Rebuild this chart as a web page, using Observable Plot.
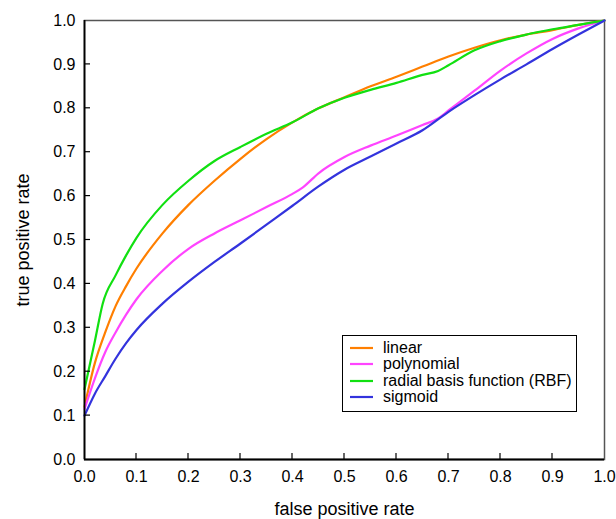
<!DOCTYPE html>
<html>
<head>
<meta charset="utf-8">
<script src="https://cdn.jsdelivr.net/npm/d3@7"></script>
<script src="https://cdn.jsdelivr.net/npm/@observablehq/plot@0.6"></script>
<style>
  html, body { margin: 0; padding: 0; background: #fff; }
  #wrap { position: relative; width: 616px; height: 519px; font-family: "Liberation Sans", Arial, sans-serif; }
  #legend { position: absolute; left: 342px; top: 335px; width: 235px; height: 77px; border: 1px solid #000; background: #fff; box-sizing: border-box; font-size: 16px; line-height: 16.3px; padding: 4px 0 0 7px; }
  #legend div { display: flex; align-items: center; height: 16.3px; }
  #legend svg { margin-right: 10px; }
</style>
</head>
<body>
<div id="wrap"></div>
<script>
const seriesNames = ["linear", "polynomial", "radial basis function (RBF)", "sigmoid"];
const seriesColors = ["#ff7f00", "#ff44ff", "#11e011", "#3333dd"];

const linearFpr = [0, 0.02, 0.04, 0.06, 0.08, 0.1, 0.15, 0.2, 0.25, 0.3, 0.35, 0.4, 0.45, 0.5, 0.55, 0.6, 0.65, 0.7, 0.75, 0.8, 0.85, 0.9, 0.95, 1.0];
const linearTpr = [0.12, 0.22, 0.29, 0.35, 0.395, 0.435, 0.515, 0.58, 0.635, 0.685, 0.73, 0.768, 0.80, 0.825, 0.85, 0.872, 0.895, 0.918, 0.938, 0.955, 0.968, 0.978, 0.99, 1.0];

const polyFpr = [0, 0.02, 0.04, 0.06, 0.08, 0.1, 0.15, 0.2, 0.25, 0.3, 0.35, 0.4, 0.42, 0.45, 0.5, 0.55, 0.6, 0.65, 0.68, 0.7, 0.75, 0.8, 0.85, 0.9, 0.95, 1.0];
const polyTpr = [0.115, 0.185, 0.245, 0.29, 0.33, 0.365, 0.43, 0.48, 0.515, 0.545, 0.575, 0.605, 0.62, 0.652, 0.689, 0.715, 0.738, 0.762, 0.777, 0.795, 0.84, 0.886, 0.925, 0.958, 0.982, 1.0];

const rbfFpr = [0, 0.02, 0.035, 0.06, 0.08, 0.1, 0.15, 0.2, 0.25, 0.3, 0.35, 0.4, 0.45, 0.5, 0.55, 0.6, 0.65, 0.68, 0.7, 0.75, 0.8, 0.85, 0.9, 0.95, 1.0];
const rbfTpr = [0.16, 0.27, 0.355, 0.42, 0.465, 0.505, 0.58, 0.635, 0.68, 0.712, 0.742, 0.768, 0.80, 0.824, 0.842, 0.858, 0.876, 0.885, 0.898, 0.932, 0.953, 0.968, 0.98, 0.99, 1.0];

const sigFpr = [0, 0.02, 0.04, 0.06, 0.08, 0.1, 0.15, 0.2, 0.25, 0.3, 0.35, 0.4, 0.45, 0.5, 0.55, 0.6, 0.65, 0.7, 0.75, 0.8, 0.85, 0.9, 0.95, 1.0];
const sigTpr = [0.10, 0.15, 0.19, 0.23, 0.265, 0.295, 0.355, 0.405, 0.45, 0.492, 0.535, 0.578, 0.622, 0.66, 0.69, 0.72, 0.75, 0.792, 0.83, 0.866, 0.9, 0.935, 0.968, 1.0];

const xTicks = [0, 0.1, 0.2, 0.3, 0.4, 0.5, 0.6, 0.7, 0.8, 0.9, 1.0];
const yTicks = [0, 0.1, 0.2, 0.3, 0.4, 0.5, 0.6, 0.7, 0.8, 0.9, 1.0];

const fprs = [linearFpr, polyFpr, rbfFpr, sigFpr];
const tprs = [linearTpr, polyTpr, rbfTpr, sigTpr];
const rows = [];
seriesNames.forEach((name, i) => {
  fprs[i].forEach((f, j) => rows.push({series: name, fpr: f, tpr: tprs[i][j]}));
});

const fmt = d3.format(".1f");

const chart = Plot.plot({
  width: 616,
  height: 519,
  marginLeft: 84,
  marginRight: 12,
  marginTop: 20,
  marginBottom: 60,
  style: {fontFamily: "'Liberation Sans', Arial, sans-serif", color: "#000", background: "#fff"},
  x: {domain: [0, 1]},
  y: {domain: [0, 1]},
  color: {domain: seriesNames, range: seriesColors},
  marks: [
    Plot.frame({stroke: "#555", strokeWidth: 1.5}),
    Plot.axisX({ticks: xTicks, tickSize: 0, tickPadding: 11, tickFormat: fmt, fontSize: 16,
      label: "false positive rate", labelAnchor: "center", labelArrow: "none", labelOffset: 55}),
    Plot.axisY({ticks: yTicks, tickSize: 0, tickPadding: 9, tickFormat: fmt, fontSize: 16,
      label: "true positive rate", labelAnchor: "center", labelArrow: "none", labelOffset: 68}),
    Plot.line(rows, {x: "fpr", y: "tpr", z: "series", stroke: "series", strokeWidth: 2.2, curve: "monotone-x"}),
    Plot.ruleX([0], {stroke: "#000", strokeWidth: 1.8}),
    Plot.ruleY([0], {stroke: "#000", strokeWidth: 1.8})
  ]
});

const wrap = document.getElementById("wrap");
wrap.appendChild(chart);

const svg = d3.select(chart);
svg.selectAll("text").attr("fill", "#000");
svg.selectAll("g[aria-label$='tick label']").attr("font-size", 16).selectAll("text").attr("font-size", 16);
svg.selectAll("g[aria-label$='axis label']").attr("font-size", 18).selectAll("text").attr("font-size", 18);

// inward ticks on left and bottom axes, placed via the chart's scales
const sx = chart.scale("x"), sy = chart.scale("y");
const g = svg.append("g").attr("stroke", "#000").attr("stroke-width", 1.2);
yTicks.slice(1, -1).forEach(v => g.append("line").attr("x1", sx.apply(0)).attr("x2", sx.apply(0) + 6).attr("y1", sy.apply(v)).attr("y2", sy.apply(v)));
xTicks.slice(1, -1).forEach(v => g.append("line").attr("x1", sx.apply(v)).attr("x2", sx.apply(v)).attr("y1", sy.apply(0)).attr("y2", sy.apply(0) - 6));

// legend
const legend = document.createElement("div");
legend.id = "legend";
seriesNames.forEach((name, i) => {
  const row = document.createElement("div");
  row.innerHTML = `<svg width="23" height="4"><line x1="0" x2="23" y1="2" y2="2" stroke="${seriesColors[i]}" stroke-width="2.2"/></svg><span>${name}</span>`;
  legend.appendChild(row);
});
wrap.appendChild(legend);
</script>
</body>
</html>
